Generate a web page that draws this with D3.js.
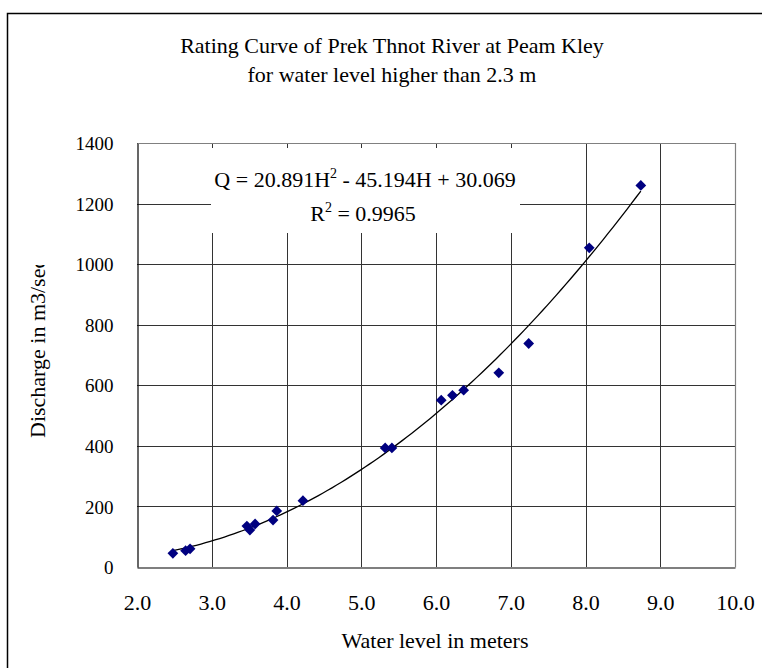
<!DOCTYPE html>
<html>
<head>
<meta charset="utf-8">
<script src="https://cdn.jsdelivr.net/npm/d3@7"></script>
<style>
  body { margin: 0; background: #fff; }
  text { font-family: "Liberation Serif", "Times New Roman", serif; fill: #000; }
</style>
</head>
<body>
<div id="chart"></div>
<script>
const waterLevel = [2.48, 2.65, 2.71, 3.47, 3.51, 3.58, 3.82, 3.87, 4.22, 5.32, 5.41, 6.07, 6.22, 6.37, 6.84, 7.24, 8.05, 8.74]
const discharge = [45, 54, 60, 135, 122, 142, 155, 185, 219, 393, 393, 551, 567, 584, 641, 738, 1054, 1260]

const xTicks = [2, 3, 4, 5, 6, 7, 8, 9, 10]
const yTicks = [0, 200, 400, 600, 800, 1000, 1200, 1400]

const titleLines = ["Rating Curve of Prek Thnot River at Peam Kley", "for water level higher than 2.3 m"]

const W = 762, H = 668
const margin = { top: 143, right: 27, bottom: 101, left: 137 }

const svg = d3.select("#chart").append("svg")
  .attr("width", W)
  .attr("height", H)

// outer chart border (only top and left are inside the picture)
svg.append("rect")
  .attr("x", 7.5).attr("y", 13.5)
  .attr("width", W + 20).attr("height", H + 20)
  .attr("fill", "none").attr("stroke", "#000").attr("stroke-width", 1.5)

const x = d3.scaleLinear().domain([2, 10]).range([margin.left, W - margin.right])
const y = d3.scaleLinear().domain([0, 1400]).range([H - margin.bottom, margin.top])

const px = v => Math.round(v) + 0.5

// gridlines
const grid = svg.append("g").attr("stroke", "#333").attr("stroke-width", 1)
grid.selectAll(".gy").data(yTicks.slice(1)).join("line")
  .attr("x1", x(2)).attr("x2", x(10))
  .attr("y1", d => px(y(d))).attr("y2", d => px(y(d)))
grid.selectAll(".gx").data(xTicks.slice(1)).join("line")
  .attr("y1", y(0)).attr("y2", y(1400))
  .attr("x1", d => px(x(d))).attr("x2", d => px(x(d)))

// left and bottom axes
const axisX = d3.axisBottom(x).tickValues(xTicks).tickSize(0).tickFormat(d3.format(".1f"))
const gx = svg.append("g").attr("transform", `translate(0,${px(y(0))})`).call(axisX)
  .attr("font-family", "Liberation Serif, serif")
gx.select(".domain").attr("stroke", "#000").attr("stroke-width", 1.2)
gx.selectAll("text").attr("dy", null).attr("y", 42)
  .style("font-size", "22px")

const axisY = d3.axisLeft(y).tickValues(yTicks).tickSize(0).tickFormat(d3.format("d"))
const gy = svg.append("g").attr("transform", `translate(${px(x(2))},0)`).call(axisY)
  .attr("font-family", "Liberation Serif, serif")
gy.select(".domain").attr("stroke", "#000").attr("stroke-width", 1.2)
gy.selectAll("text").attr("x", -24).attr("dy", "0.35em")
  .style("font-size", "19px")

// trendline: 2nd order least squares fit of the measured points
function polyFit2(xs, ys) {
  let s = [0, 0, 0, 0, 0], t = [0, 0, 0]
  xs.forEach((xi, i) => {
    for (let k = 0; k < 5; k++) s[k] += Math.pow(xi, k)
    for (let k = 0; k < 3; k++) t[k] += ys[i] * Math.pow(xi, k)
  })
  const A = [[s[0], s[1], s[2], t[0]], [s[1], s[2], s[3], t[1]], [s[2], s[3], s[4], t[2]]]
  for (let i = 0; i < 3; i++) {
    for (let j = i + 1; j < 3; j++) {
      const f = A[j][i] / A[i][i]
      for (let k = i; k < 4; k++) A[j][k] -= f * A[i][k]
    }
  }
  const c = [0, 0, 0]
  for (let i = 2; i >= 0; i--) {
    let v = A[i][3]
    for (let k = i + 1; k < 3; k++) v -= A[i][k] * c[k]
    c[i] = v / A[i][i]
  }
  return c
}
const coef = polyFit2(waterLevel, discharge)
const fitPts = d3.range(101).map(i => {
  const h = d3.min(waterLevel) + i * (d3.max(waterLevel) - d3.min(waterLevel)) / 100
  return [h, coef[0] + coef[1] * h + coef[2] * h * h]
})
svg.append("path")
  .datum(fitPts)
  .attr("fill", "none").attr("stroke", "#000").attr("stroke-width", 1.3)
  .attr("d", d3.line().x(d => x(d[0])).y(d => y(d[1])))

// markers
svg.selectAll(".pt").data(waterLevel).join("path")
  .attr("transform", (d, i) => `translate(${x(d)},${y(discharge[i])}) rotate(45)`)
  .attr("d", d3.symbol().type(d3.symbolSquare).size(58))
  .attr("fill", "#000080")

// plot area top/right border
svg.append("path")
  .attr("d", `M${px(x(2))},${px(y(1400))}H${px(x(10))}V${px(y(0))}`)
  .attr("fill", "none").attr("stroke", "#808080").attr("stroke-width", 1.2)

// equation label
const eq = svg.append("g")
eq.append("rect")
  .attr("x", 211).attr("y", 148).attr("width", 309).attr("height", 85)
  .attr("fill", "#fff")
const t1 = eq.append("text").attr("x", 365).attr("y", 187).attr("text-anchor", "middle")
  .style("font-size", "22px")
t1.append("tspan").text("Q = 20.891H")
t1.append("tspan").attr("dy", -9).style("font-size", "14px").text("2")
t1.append("tspan").attr("dy", 9).text(" - 45.194H + 30.069")
const t2 = eq.append("text").attr("x", 363).attr("y", 221).attr("text-anchor", "middle")
  .style("font-size", "22px")
t2.append("tspan").text("R")
t2.append("tspan").attr("dy", -9).style("font-size", "14px").text("2")
t2.append("tspan").attr("dy", 9).text(" = 0.9965")

// title
svg.selectAll(".title").data(titleLines).join("text")
  .attr("x", 392).attr("y", (d, i) => 53 + i * 29)
  .attr("text-anchor", "middle")
  .style("font-size", "22px")
  .text(d => d)

// axis titles
svg.append("text")
  .attr("x", 435).attr("y", 648).attr("text-anchor", "middle")
  .style("font-size", "22px")
  .text("Water level in meters")

svg.append("clipPath").attr("id", "ylab")
  .append("rect").attr("x", 0).attr("y", 265).attr("width", 100).attr("height", 300)
svg.append("g")
  .attr("clip-path", "url(#ylab)")
  .append("text")
  .attr("transform", "translate(45,438) rotate(-90)")
  .style("font-size", "22px")
  .text("Discharge in m3/sec")
</script>
</body>
</html>
